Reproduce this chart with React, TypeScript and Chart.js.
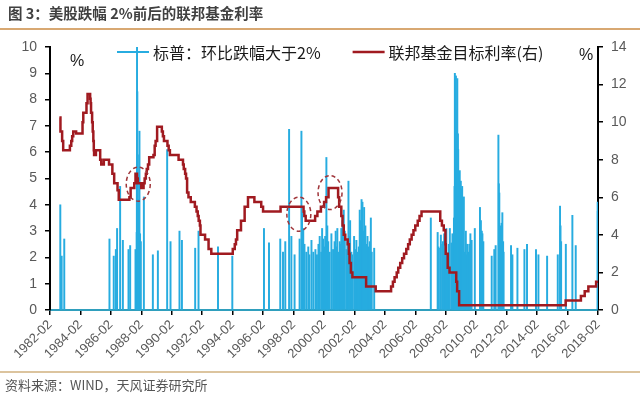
import React, { useEffect, useRef } from "react";
import { Chart, registerables } from "chart.js";
Chart.register(...registerables);

// ---------- DATA ----------
const tickLabels = [
  "1982-02", "1984-02", "1986-02", "1988-02", "1990-02", "1992-02", "1994-02",
  "1996-02", "1998-02", "2000-02", "2002-02", "2004-02", "2006-02", "2008-02",
  "2010-02", "2012-02", "2014-02", "2016-02", "2018-02",
];

// S&P 500 daily drops larger than 2% (decimal year, drop %)
const dropYears = [
  1982.76, 1982.85, 1983.02, 1985.99, 1986.27, 1986.41, 1986.49, 1986.69, 1986.87,
  1987.24, 1987.35, 1987.70, 1987.78, 1987.79, 1987.80, 1987.81, 1987.82, 1987.85,
  1987.88, 1987.91, 1987.93, 1987.96, 1988.00, 1988.05, 1988.25, 1988.84, 1989.17,
  1989.78, 1990.00, 1990.59, 1990.75, 1991.62, 1991.84, 1993.12, 1994.06, 1996.14,
  1996.47, 1997.21, 1997.39, 1997.54, 1997.79, 1997.94, 1998.15, 1998.48, 1998.60,
  1998.64, 1998.68, 1998.72, 1998.75, 1998.80, 1998.92, 1999.05, 1999.12, 1999.26,
  1999.38, 1999.52, 1999.62, 1999.72, 1999.80, 1999.90, 1999.96, 2000.02, 2000.10,
  2000.16, 2000.24, 2000.27, 2000.30, 2000.36, 2000.45, 2000.57, 2000.68, 2000.78,
  2000.85, 2000.90, 2000.96, 2001.03, 2001.12, 2001.18, 2001.22, 2001.30, 2001.38,
  2001.45, 2001.55, 2001.62, 2001.69, 2001.72, 2001.80, 2001.88, 2001.93, 2002.06,
  2002.13, 2002.21, 2002.30, 2002.37, 2002.43, 2002.48, 2002.52, 2002.55, 2002.58,
  2002.61, 2002.64, 2002.68, 2002.72, 2002.76, 2002.80, 2002.86, 2002.90, 2002.94,
  2003.02, 2003.09, 2003.16, 2003.22, 2003.38, 2007.10, 2007.55, 2007.60, 2007.63,
  2007.76, 2007.85, 2007.90, 2007.98, 2008.03, 2008.07, 2008.12, 2008.20, 2008.28,
  2008.35, 2008.46, 2008.52, 2008.57, 2008.62, 2008.66, 2008.68, 2008.70, 2008.72,
  2008.75, 2008.77, 2008.79, 2008.81, 2008.84, 2008.86, 2008.88, 2008.90, 2008.93,
  2008.96, 2009.00, 2009.03, 2009.07, 2009.10, 2009.13, 2009.16, 2009.19, 2009.22,
  2009.27, 2009.32, 2009.40, 2009.45, 2009.49, 2009.56, 2009.63, 2009.70, 2009.78,
  2009.99, 2010.33, 2010.36, 2010.39, 2010.45, 2010.49, 2010.55, 2011.10, 2011.27,
  2011.36, 2011.54, 2011.57, 2011.60, 2011.63, 2011.66, 2011.69, 2011.72, 2011.75,
  2011.80, 2011.85, 2011.88, 2012.37, 2012.46, 2012.79, 2013.25, 2013.42, 2014.01,
  2014.17, 2014.74, 2015.44, 2015.59, 2015.62, 2015.66, 2015.97, 2016.40, 2016.62,
  2018.06, 2018.07,
];
const dropPct = [
  4.0, 2.05, 2.7, 2.7, 2.05, 2.3, 3.1, 4.7, 2.65,
  2.3, 2.45, 2.3, 2.95, 5.2, 10.5, 3.9, 8.3, 5.9,
  2.4, 4.2, 3.5, 6.8, 2.9, 2.6, 4.3, 2.1, 2.25,
  6.1, 2.6, 3.0, 2.65, 2.35, 3.0, 2.4, 2.05, 3.1,
  2.55, 2.7, 2.2, 2.6, 6.87, 2.8, 2.1, 2.7, 6.8,
  3.7, 2.6, 3.1, 2.3, 2.5, 2.2, 2.4, 2.1, 2.65,
  2.2, 2.3, 2.1, 2.5, 2.8, 2.2, 3.1, 2.7, 2.4,
  2.8, 5.8, 2.3, 3.2, 2.6, 2.2, 2.9, 2.3, 2.6,
  3.0, 2.4, 3.1, 2.2, 2.6, 2.5, 3.1, 3.4, 3.8,
  3.0, 2.3, 2.6, 4.9, 2.8, 3.4, 2.2, 2.1, 2.8,
  2.3, 2.65, 2.2, 2.4, 3.8, 3.4, 2.9, 4.2, 3.3,
  4.1, 2.6, 3.0, 3.9, 2.7, 3.2, 2.5, 2.2, 2.8,
  2.4, 2.6, 3.5, 2.2, 2.35, 3.5, 2.95, 2.4, 2.35,
  2.85, 2.5, 2.6, 2.9, 2.4, 2.6, 3.1, 2.1, 2.5,
  3.1, 2.55, 2.9, 2.3, 3.5, 4.7, 9.0, 5.7, 7.6,
  8.9, 6.1, 3.9, 5.3, 8.8, 5.0, 6.7, 6.1, 4.3,
  3.0, 5.3, 3.4, 4.9, 2.7, 4.6, 4.7, 3.5, 2.4,
  4.3, 2.2, 3.0, 2.1, 2.5, 2.2, 2.5, 2.9, 2.65,
  3.1, 3.9, 2.6, 3.4, 3.0, 2.9, 2.6, 2.05, 2.3,
  2.45, 6.65, 4.8, 4.45, 2.8, 3.2, 2.5, 2.9, 3.3,
  3.7, 2.6, 2.2, 2.45, 2.1, 2.35, 2.3, 2.5, 2.3,
  2.1, 2.05, 2.1, 3.95, 3.2, 2.6, 2.5, 3.6, 2.45,
  4.1, 3.75,
];

// Federal funds target rate, change points (decimal year, %)
const rateYears = [
  1982.70, 1982.77, 1982.88, 1982.95, 1983.39, 1983.48, 1983.54, 1983.61, 1983.80,
  1984.22, 1984.27, 1984.48, 1984.55, 1984.72, 1984.75, 1984.78, 1984.85, 1984.89,
  1984.93, 1984.96, 1984.98, 1985.10, 1985.25, 1985.38, 1985.45, 1985.62, 1985.96,
  1986.18, 1986.30, 1986.52, 1986.60, 1987.30, 1987.38, 1987.62, 1987.70, 1987.80,
  1987.85, 1988.08, 1988.23, 1988.30, 1988.38, 1988.44, 1988.52, 1988.60, 1988.88,
  1988.96, 1989.02, 1989.12, 1989.43, 1989.50, 1989.57, 1989.80, 1989.88, 1989.96,
  1990.53, 1990.82, 1990.87, 1990.96, 1991.02, 1991.09, 1991.18, 1991.33, 1991.60,
  1991.71, 1991.79, 1991.85, 1991.93, 1991.97, 1992.27, 1992.50, 1992.68, 1994.09,
  1994.22, 1994.30, 1994.38, 1994.63, 1994.87, 1995.09, 1995.51, 1995.96, 1996.08,
  1997.23, 1998.74, 1998.79, 1998.88, 1999.50, 1999.65, 1999.88, 2000.09, 2000.22,
  2000.38, 2001.01, 2001.08, 2001.22, 2001.30, 2001.38, 2001.48, 2001.64, 2001.72,
  2001.76, 2001.85, 2001.95, 2002.85, 2003.48, 2004.49, 2004.61, 2004.72, 2004.86,
  2004.96, 2005.09, 2005.22, 2005.34, 2005.49, 2005.61, 2005.72, 2005.84, 2005.96,
  2006.08, 2006.24, 2006.36, 2006.49, 2007.72, 2007.83, 2007.95, 2008.06, 2008.08,
  2008.21, 2008.33, 2008.77, 2008.83, 2008.96, 2015.96, 2016.96, 2017.21, 2017.45,
  2017.96, 2018.08,
];
const rateValues = [
  10.25, 9.5, 9.0, 8.5, 8.75, 9.0, 9.25, 9.5, 9.4,
  10.0, 10.5, 11.0, 11.5, 11.25, 11.0, 10.5, 10.0, 9.5,
  9.0, 8.5, 8.25, 8.5, 8.5, 8.0, 7.75, 8.0, 7.75,
  7.25, 6.75, 6.375, 5.875, 6.0, 6.5, 6.75, 7.25, 7.0,
  6.75, 6.5, 6.75, 7.0, 7.25, 7.5, 7.75, 8.125, 8.25,
  8.75, 9.0, 9.75, 9.5, 9.25, 9.0, 8.75, 8.5, 8.25,
  8.0, 7.75, 7.5, 7.25, 7.0, 6.25, 6.0, 5.75, 5.5,
  5.25, 5.0, 4.75, 4.5, 4.0, 3.75, 3.25, 3.0, 3.25,
  3.5, 3.75, 4.25, 4.75, 5.5, 6.0, 5.75, 5.5, 5.25,
  5.5, 5.25, 5.0, 4.75, 5.0, 5.25, 5.5, 5.75, 6.0,
  6.5, 6.0, 5.5, 5.0, 4.5, 4.0, 3.75, 3.5, 3.0,
  2.5, 2.0, 1.75, 1.25, 1.0, 1.25, 1.5, 1.75, 2.0,
  2.25, 2.5, 2.75, 3.0, 3.25, 3.5, 3.75, 4.0, 4.25,
  4.5, 4.75, 5.0, 5.25, 4.75, 4.5, 4.25, 3.5, 3.0,
  2.25, 2.0, 1.5, 1.0, 0.25, 0.5, 0.75, 1.0, 1.25,
  1.5, 1.5,
];

// dashed circle highlights (decimal year, rate %)
const highlightYears = [1987.88, 1998.43, 2000.48];
const highlightRates = [6.7, 5.1, 6.25];

const legendLabels = ["标普：环比跌幅大于2%", "联邦基金目标利率(右)"];

// ---------- STYLE ----------
const BAR_COLOR = "#27ace0";
const LINE_COLOR = "#a01a20";
const AXIS_TEXT = "#595959";
const CJK = '"Noto Sans CJK SC", "Noto Sans", sans-serif';

const tickValue = (label: string) => parseInt(label.slice(0, 4), 10) + 1 / 12;

const decorPlugin = {
  id: "decor",
  beforeDatasetsDraw(chart: any) {
    const { ctx, chartArea } = chart;
    ctx.save();
    // legend
    const cy = chartArea.top + 5;
    ctx.font = `16px ${CJK}`;
    ctx.textBaseline = "middle";
    ctx.textAlign = "left";
    let x = chartArea.left + 67;
    const colors = [BAR_COLOR, LINE_COLOR];
    legendLabels.forEach((lab, i) => {
      ctx.strokeStyle = colors[i];
      ctx.lineWidth = i === 0 ? 2 : 2.5;
      ctx.beginPath();
      ctx.moveTo(x, cy);
      ctx.lineTo(x + 32, cy);
      ctx.stroke();
      ctx.fillStyle = "#1a1a1a";
      ctx.fillText(lab, x + 36, cy + 1);
      x += 36 + ctx.measureText(lab).width + 32;
    });
    // % unit labels
    ctx.font = `16px "Liberation Sans", Arial, sans-serif`;
    ctx.fillStyle = "#222";
    ctx.textAlign = "center";
    ctx.fillText("%", chartArea.left + 27, chartArea.top + 15);
    ctx.fillText("%", chartArea.right - 12, chartArea.top + 9);
    ctx.restore();
  },
  afterDatasetsDraw(chart: any) {
    const { ctx } = chart;
    const xs = chart.scales.x;
    const ys = chart.scales.y1;
    ctx.save();
    ctx.strokeStyle = "#a0353a";
    ctx.lineWidth = 1.5;
    ctx.setLineDash([4, 3]);
    highlightYears.forEach((yr, i) => {
      const px = xs.getPixelForValue(yr);
      const py = ys.getPixelForValue(highlightRates[i]);
      ctx.beginPath();
      ctx.ellipse(px, py, 12, 17, 0, 0, Math.PI * 2);
      ctx.stroke();
    });
    ctx.restore();
  },
};

export default function App() {
  const ref = useRef<HTMLCanvasElement>(null);
  useEffect(() => {
    if (!ref.current) return;
    Chart.defaults.font.family = '"Liberation Sans", Arial, sans-serif';
    const chart = new Chart(ref.current, {
      data: {
        datasets: [
          {
            type: "line",
            label: legendLabels[1],
            data: rateYears.map((x, i) => ({ x, y: rateValues[i] })),
            yAxisID: "y1",
            borderColor: LINE_COLOR,
            borderWidth: 2.5,
            pointRadius: 0,
            stepped: true,
            order: 0,
          },
          {
            type: "bar",
            label: legendLabels[0],
            data: dropYears.map((x, i) => ({ x, y: dropPct[i] })),
            yAxisID: "y",
            backgroundColor: BAR_COLOR,
            borderWidth: 0,
            barThickness: 1.3,
            order: 1,
          },
        ],
      } as any,
      options: {
        responsive: false,
        animation: false,
        devicePixelRatio: 1,
        layout: { padding: { top: 47, left: 0, right: 0, bottom: 0 } },
        plugins: { legend: { display: false }, tooltip: { enabled: false } },
        scales: {
          x: {
            type: "linear",
            offset: false,
            min: tickValue(tickLabels[0]),
            max: tickValue(tickLabels[tickLabels.length - 1]),
            afterBuildTicks: (scale: any) => {
              scale.ticks = tickLabels.map((l) => ({ value: tickValue(l) }));
            },
            afterFit: (scale: any) => {
              scale.height = 88;
            },
            ticks: {
              autoSkip: false,
              maxRotation: 45,
              minRotation: 45,
              padding: 2,
              color: AXIS_TEXT,
              font: { size: 13 },
              callback: (_v: any, i: number) => tickLabels[i],
            },
            grid: {
              offset: false,
              drawOnChartArea: false,
              drawTicks: true,
              tickLength: 5,
              color: "#000",
              lineWidth: 1.5,
            },
            border: { display: true, color: "#2f9fbd", width: 2 },
          },
          y: {
            position: "left",
            min: 0,
            max: 10,
            afterFit: (scale: any) => {
              scale.width = 50;
            },
            ticks: { stepSize: 1, color: AXIS_TEXT, font: { size: 14 }, padding: 8 },
            grid: { drawOnChartArea: false, tickLength: 5, color: "#000", lineWidth: 1.5 },
            border: { display: true, color: "#000", width: 2 },
          },
          y1: {
            position: "right",
            min: 0,
            max: 14,
            afterFit: (scale: any) => {
              scale.width = 42;
            },
            ticks: { stepSize: 2, color: AXIS_TEXT, font: { size: 14 }, padding: 8 },
            grid: { drawOnChartArea: false, tickLength: 5, color: "#000", lineWidth: 1.5 },
            border: { display: true, color: "#000", width: 2 },
          },
        },
      } as any,
      plugins: [decorPlugin],
    });
    return () => chart.destroy();
  }, []);

  return (
    <div
      style={{
        position: "fixed",
        left: 0,
        top: 0,
        width: 640,
        height: 398,
        background: "#fff",
        overflow: "hidden",
      }}
    >
      <canvas
        ref={ref}
        width={640}
        height={398}
        style={{ position: "absolute", left: 0, top: 0, width: 640, height: 398 }}
      />
      <div
        style={{
          position: "absolute",
          left: 8,
          top: 3,
          font: `bold 14.5px ${CJK}`,
          lineHeight: "20px",
          color: "#404040",
          whiteSpace: "nowrap",
        }}
      >
        图 3：美股跌幅 2%前后的联邦基金利率
      </div>
      <div
        style={{ position: "absolute", left: 0, top: 28, width: 640, height: 2, background: "#d8a872" }}
      />
      <div
        style={{ position: "absolute", left: 0, top: 371, width: 640, height: 1.5, background: "#dcc49e" }}
      />
      <div
        style={{
          position: "absolute",
          left: 5,
          top: 376,
          font: `13px ${CJK}`,
          lineHeight: "18px",
          color: "#555",
          whiteSpace: "nowrap",
        }}
      >
        资料来源：WIND，天风证券研究所
      </div>
    </div>
  );
}
